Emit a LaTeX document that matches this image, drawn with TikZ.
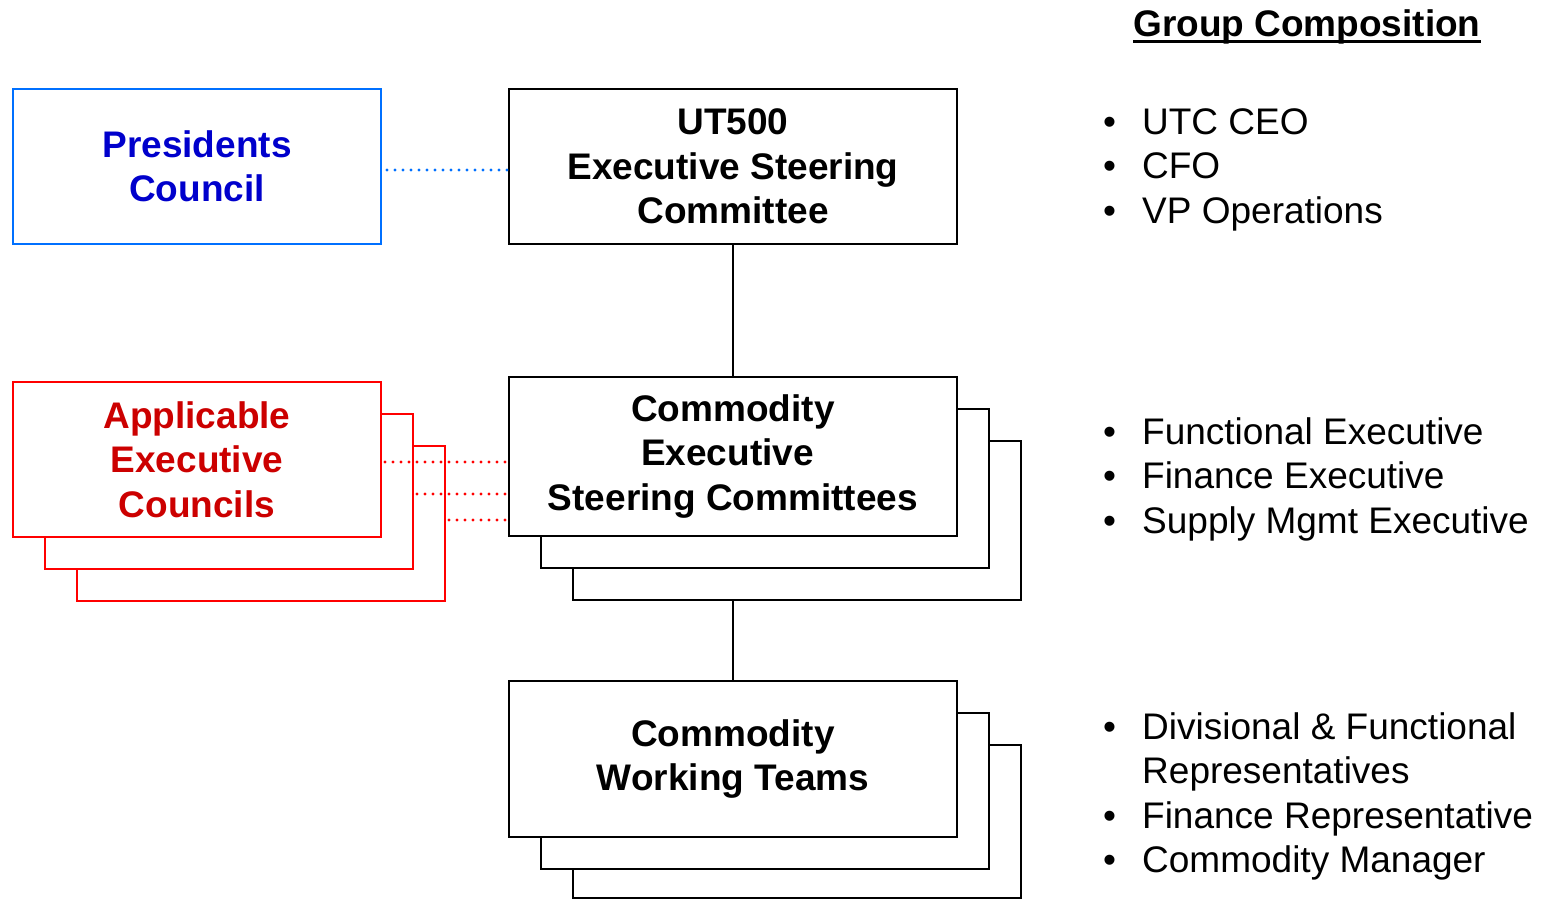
\documentclass[tikz,border=0pt]{standalone}
\usepackage{fontspec}
\setmainfont{Liberation Sans}
\definecolor{pcline}{RGB}{0,112,255}
\definecolor{pctext}{RGB}{0,0,204}
\definecolor{redline}{RGB}{255,0,0}
\definecolor{redtext}{RGB}{204,0,0}
\newcommand{\bigfont}{\fontsize{37}{44.5}\selectfont}
\begin{document}
\begin{tikzpicture}[x=1pt,y=-1pt,
  box/.style={draw=black, line width=2pt, fill=white, rectangle, inner sep=0pt,
    anchor=north west, minimum width=448pt, minimum height=155pt, align=center,
    font=\bigfont\bfseries},
  pcbox/.style={box, draw=pcline, minimum width=368pt, text=pctext},
  redbox/.style={box, draw=redline, minimum width=368pt, text=redtext},
  dots/.style={line width=3.2pt, line cap=round, dash pattern=on 0pt off 8pt},
  listtext/.style={anchor=base west, inner sep=0pt, font=\bigfont},
]
\useasboundingbox (0,0) rectangle (1541,899);

% header
\node[anchor=base west, inner sep=0pt, font=\bigfont\bfseries] (hdr) at (1133,37) {Group Composition};
\draw[line width=3pt] ([yshift=-5pt]hdr.base west) -- ([yshift=-5pt]hdr.base east);

% top row
\node[pcbox] (pc) at (12,88) {Presidents\\Council};
\node[box] (ut) at (508,88) {UT500\\Executive Steering\\Committee};
\draw[dots, pcline] ([yshift=-3.5pt,xshift=5pt]pc.east) -- ([yshift=-3.5pt]ut.west);

% red stack
\node[redbox] (ap3) at (76,445) {};
\node[redbox] (ap2) at (44,413) {};
\node[redbox] (ap1) at (12,381) {Applicable\\Executive\\Councils};

% commodity executive stack
\node[box, minimum height=159pt] (ces3) at (572,440) {};
\node[box, minimum height=159pt] (ces2) at (540,408) {};
\node[box, minimum height=159pt] (ces1) at (508,376) {Commodity\\\hbox{Executive\kern11pt}\\Steering Committees};

% working teams stack
\node[box, minimum height=153pt] (cwt3) at (572,744) {};
\node[box, minimum height=156pt] (cwt2) at (540,712) {};
\node[box, minimum height=156pt] (cwt1) at (508,680) {Commodity\\Working Teams};

% connectors
\draw[line width=2pt] (ut.south) -- (ces1.north);
\draw[line width=2pt] (ces1.center |- ces3.south) -- (cwt1.north);

\draw[dots, redline] ([xshift=3pt]ap1.east |- 0,462) -- (ces1.west |- 0,462);
\draw[dots, redline] ([xshift=3pt]ap2.east |- 0,494) -- (ces1.west |- 0,494);
\draw[dots, redline] ([xshift=3pt]ap3.east |- 0,520) -- (ces1.west |- 0,520);

% lists
\node[listtext] (l1) at (1103,134) {\begin{tabular}[t]{@{}p{39pt}@{}l@{}}
\textbullet & UTC CEO\\
\textbullet & CFO\\
\textbullet & VP Operations
\end{tabular}};
\node[listtext] (l2) at (1103,444) {\begin{tabular}[t]{@{}p{39pt}@{}l@{}}
\textbullet & Functional Executive\\
\textbullet & Finance Executive\\
\textbullet & Supply Mgmt Executive
\end{tabular}};
\node[listtext] (l3) at (1103,739) {\begin{tabular}[t]{@{}p{39pt}@{}l@{}}
\textbullet & Divisional \& Functional\\
 & Representatives\\
\textbullet & Finance Representative\\
\textbullet & Commodity Manager
\end{tabular}};
\end{tikzpicture}
\end{document}
